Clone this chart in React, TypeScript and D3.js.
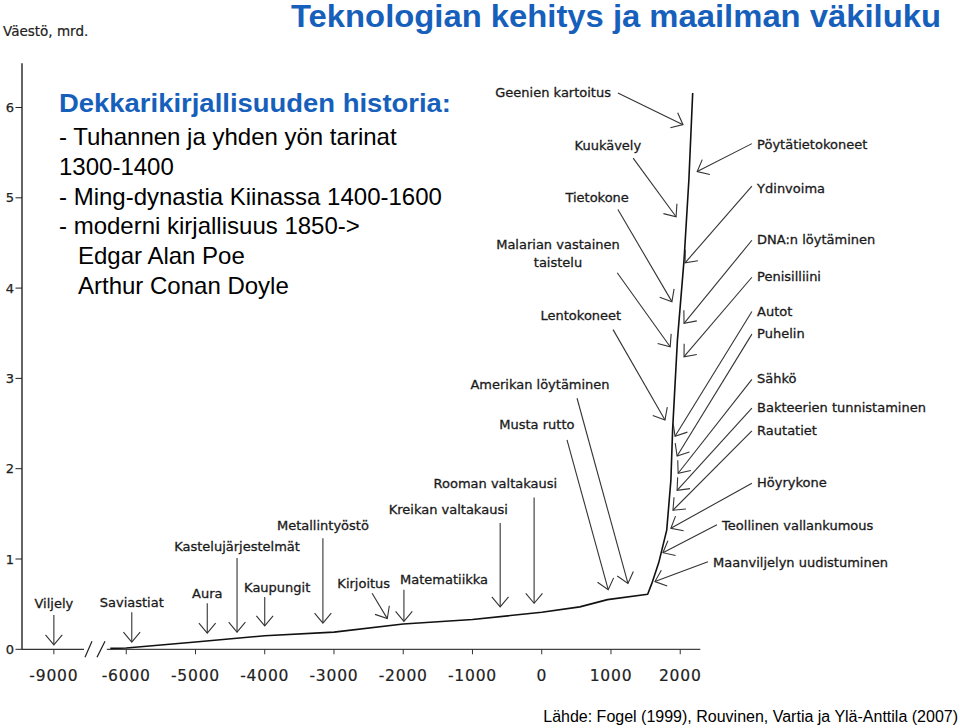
import React from 'react';
import * as d3 from 'd3';

const chartTitle = 'Teknologian kehitys ja maailman väkiluku';
const yAxisTitle = 'Väestö, mrd.';
const sourceText = 'Lähde: Fogel (1999), Rouvinen, Vartia ja Ylä-Anttila (2007)';
const noteHeading = 'Dekkarikirjallisuuden historia:';
const noteLines = [
  '- Tuhannen ja yhden yön tarinat',
  '1300-1400',
  '- Ming-dynastia Kiinassa 1400-1600',
  '- moderni kirjallisuus 1850->',
  'Edgar Alan Poe',
  'Arthur Conan Doyle',
];
const noteIndented = [false, false, false, false, true, true];

const xTickYears = [-9000, -6000, -5000, -4000, -3000, -2000, -1000, 0, 1000, 2000];
const yTickValues = [0, 1, 2, 3, 4, 5, 6];

// World population (billions)
const popYears = [-6230, -6000, -5000, -4000, -3000, -2000, -1000, 0, 550, 950, 1530, 1590, 1690, 1805, 1865, 1890, 1960, 2055, 2125, 2180];
const popValues = [0.01, 0.015, 0.08, 0.15, 0.19, 0.28, 0.33, 0.41, 0.47, 0.55, 0.61, 0.73, 0.96, 1.32, 1.87, 2.43, 3.43, 4.31, 5.2, 6.16];

// [label, tipYear, tipValue, tailYear, tailValue, labelYear, labelValue, anchor]
const events: [string, number, number, number, number, number, number, string][] = [
  ['Viljely', -9000, 0.05, -9000, 0.38, -9000, 0.457, 'middle'],
  ['Saviastiat', -5920, 0.08, -5920, 0.41, -5920, 0.468, 'middle'],
  ['Aura', -4830, 0.18, -4830, 0.51, -4830, 0.568, 'middle'],
  ['Kastelujärjestelmät', -4400, 0.19, -4400, 1.01, -4400, 1.089, 'middle'],
  ['Kaupungit', -4000, 0.26, -4000, 0.58, -3820, 0.635, 'middle'],
  ['Metallintyöstö', -3160, 0.29, -3160, 1.23, -3160, 1.32, 'middle'],
  ['Kirjoitus', -2230, 0.34, -2450, 0.62, -2570, 0.68, 'middle'],
  ['Matematiikka', -1990, 0.31, -1990, 0.66, -1410, 0.72, 'middle'],
  ['Kreikan valtakausi', -600, 0.47, -600, 1.4, -1350, 1.5, 'middle'],
  ['Rooman valtakausi', -110, 0.51, -110, 1.68, -670, 1.79, 'middle'],
  ['Musta rutto', 960, 0.66, 365, 2.32, -70, 2.44, 'middle'],
  ['Amerikan löytäminen', 1245, 0.73, 510, 2.78, -25, 2.88, 'middle'],
  ['Lentokoneet', 1780, 2.54, 1030, 3.54, 565, 3.65, 'middle'],
  ['Malarian vastainen\ntaistelu', 1855, 3.35, 1090, 4.17, 235, 4.43, 'middle'],
  ['Tietokone', 1880, 3.85, 1100, 4.87, 800, 4.95, 'middle'],
  ['Kuukävely', 1940, 4.79, 1320, 5.44, 955, 5.53, 'middle'],
  ['Geenien kartoitus', 2040, 5.81, 1100, 6.16, 165, 6.12, 'middle'],
  ['Pöytätietokoneet', 2245, 5.29, 3035, 5.6, 3110, 5.54, 'start'],
  ['Ydinvoima', 2070, 4.28, 3035, 5.13, 3110, 5.05, 'start'],
  ['DNA:n löytäminen', 2055, 3.61, 3035, 4.53, 3110, 4.49, 'start'],
  ['Penisilliini', 2055, 3.24, 3035, 4.12, 3110, 4.08, 'start'],
  ['Autot', 1925, 2.36, 3035, 3.74, 3110, 3.69, 'start'],
  ['Puhelin', 1955, 2.14, 3035, 3.49, 3110, 3.45, 'start'],
  ['Sähkö', 1970, 1.95, 3035, 2.99, 3110, 2.95, 'start'],
  ['Bakteerien tunnistaminen', 1955, 1.76, 3035, 2.67, 3110, 2.63, 'start'],
  ['Rautatiet', 1895, 1.54, 3035, 2.42, 3110, 2.37, 'start'],
  ['Höyrykone', 1865, 1.34, 3035, 1.84, 3110, 1.8, 'start'],
  ['Teollinen vallankumous', 1750, 1.07, 2530, 1.38, 2605, 1.32, 'start'],
  ['Maanviljelyn uudistuminen', 1635, 0.75, 2400, 0.97, 2475, 0.91, 'start'],
];

const breakLeftYear = -8565;
const breakRightYear = -6280;
const axisEndYear = 2290;
const yAxisTop = 6.49;

const BLUE = '#1660BC';
const LABEL_FONT = '"DejaVu Sans", Verdana, sans-serif';
const SANS = '"Liberation Sans", Arial, sans-serif';

function arrowHead(x1: number, y1: number, x2: number, y2: number, len = 13, ang = (40 * Math.PI) / 180) {
  const dx = x1 - x2;
  const dy = y1 - y2;
  const d = Math.hypot(dx, dy) || 1;
  const ux = dx / d;
  const uy = dy / d;
  const arm = (s: number) => {
    const c = Math.cos(s * ang);
    const sn = Math.sin(s * ang);
    return [x2 + len * (c * ux - sn * uy), y2 + len * (sn * ux + c * uy)];
  };
  const a = arm(1);
  const b = arm(-1);
  return `M${a[0]},${a[1]}L${x2},${y2}L${b[0]},${b[1]}`;
}

export default function App() {
  const x = d3.scaleLinear().domain([-9460, -8500, -6350, 2300]).range([22, 88.5, 102, 701]);
  const y = d3.scaleLinear().domain([0, 6]).range([649.3, 107.5]);

  const popLine = d3
    .line<number>()
    .x((_, i) => x(popYears[i]))
    .y((d) => y(d))(popValues);

  const y0 = y(0);
  const bl = x(breakLeftYear);
  const br = x(breakRightYear);

  return (
    <svg
      width={960}
      height={728}
      viewBox="0 0 960 728"
      style={{ position: 'absolute', left: 0, top: 0, display: 'block', background: '#fff' }}
    >
      <rect x={0} y={0} width={960} height={728} fill="#fff" />

      {/* Title */}
      <text x={291} y={27} fontFamily={SANS} fontWeight="bold" fontSize={31} fill={BLUE} textLength={650} lengthAdjust="spacingAndGlyphs">
        {chartTitle}
      </text>

      {/* Y axis title */}
      <text x={3} y={36} fontFamily={LABEL_FONT} fontSize={13.5} fill="#222" stroke="#222" strokeWidth={0.2}>
        {yAxisTitle}
      </text>

      {/* Y axis */}
      <line x1={x(-9460)} x2={x(-9460)} y1={y(0)} y2={y(yAxisTop)} stroke="#111" strokeWidth={1.3} />
      {yTickValues.map((v) => (
        <g key={v}>
          <line x1={15.5} x2={x(-9460)} y1={y(v)} y2={y(v)} stroke="#222" strokeWidth={1} />
          <text x={14} y={y(v)} dy="0.35em" textAnchor="end" fontFamily={LABEL_FONT} fontSize={13} fill="#222" stroke="#222" strokeWidth={0.25}>
            {v}
          </text>
        </g>
      ))}

      {/* X axis with break */}
      <line x1={x(-9460)} x2={bl} y1={y0} y2={y0} stroke="#333" strokeWidth={1.2} />
      <line x1={br} x2={x(axisEndYear)} y1={y0} y2={y0} stroke="#444" strokeWidth={1.2} />
      <line x1={bl + 1} y1={y0 + 8} x2={bl + 8} y2={y0 - 8} stroke="#222" strokeWidth={1.2} />
      <line x1={bl + 13} y1={y0 + 8} x2={bl + 21} y2={y0 - 8} stroke="#222" strokeWidth={1.2} />
      {xTickYears.map((t) => (
        <g key={t}>
          <line x1={x(t)} x2={x(t)} y1={y0} y2={y0 + 5} stroke="#333" strokeWidth={1} />
          <text x={x(t)} y={681} textAnchor="middle" fontFamily={LABEL_FONT} fontSize={15.5} letterSpacing={0.8} fill="#222" stroke="#222" strokeWidth={0.2}>
            {t}
          </text>
        </g>
      ))}

      {/* Population curve */}
      <path d={popLine || ''} fill="none" stroke="#111" strokeWidth={1.6} strokeLinejoin="round" />

      {/* Event annotations */}
      {events.map(([name, tY, tV, sY, sV, lY, lV, anchor]) => {
        const x1 = x(sY);
        const y1 = y(sV);
        const x2 = x(tY);
        const y2 = y(tV);
        const parts = name.split('\n');
        return (
          <g key={name}>
            <line x1={x1} y1={y1} x2={x2} y2={y2} stroke="#333" strokeWidth={1.1} />
            <path d={arrowHead(x1, y1, x2, y2)} fill="none" stroke="#333" strokeWidth={1.1} />
            <text x={x(lY)} y={y(lV)} textAnchor={anchor} fontFamily={LABEL_FONT} fontSize={13} fill="#1a1a1a" stroke="#1a1a1a" strokeWidth={0.3}>
              {parts.map((p, i) => (
                <tspan key={i} x={x(lY)} dy={i === 0 ? 0 : 18}>
                  {p}
                </tspan>
              ))}
            </text>
          </g>
        );
      })}

      {/* Note block */}
      <text x={59} y={112} fontFamily={SANS} fontWeight="bold" fontSize={25.5} fill={BLUE} textLength={392} lengthAdjust="spacingAndGlyphs">
        {noteHeading}
      </text>
      {noteLines.map((l, i) => (
        <text key={i} x={noteIndented[i] ? 78 : 59} y={145 + i * 29.8} fontFamily={SANS} fontSize={24} fill="#000">
          {l}
        </text>
      ))}

      {/* Source */}
      <text x={958} y={722} textAnchor="end" fontFamily={SANS} fontSize={16} fill="#000">
        {sourceText}
      </text>
    </svg>
  );
}
